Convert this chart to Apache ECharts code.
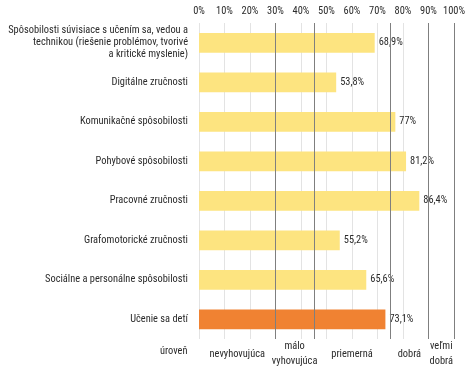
<!DOCTYPE html>
<html><head><meta charset="utf-8">
<script src="https://cdn.jsdelivr.net/npm/echarts@6/dist/echarts.min.js"></script>
<style>html,body{margin:0;padding:0;background:#fff}#c{width:474px;height:371px}</style>
</head><body><div id="c"></div>
<script>
var categories = [
  "Spôsobilosti súvisiace s učením sa, vedou a\ntechnikou (riešenie problémov, tvorivé\na kritické myslenie)",
  "Digitálne zručnosti",
  "Komunikačné spôsobilosti",
  "Pohybové spôsobilosti",
  "Pracovné zručnosti",
  "Grafomotorické zručnosti",
  "Sociálne a personálne spôsobilosti",
  "Učenie sa detí"
];
var values = [68.9, 53.8, 77, 81.2, 86.4, 55.2, 65.6, 73.1];
var highlightIndex = 7;
var thresholds = [30, 45, 75, 90, 100];
var levelPositions = [15, 37.5, 60, 82.5, 95];
var levelLabels = ["nevyhovujúca", "málo\nvyhovujúca", "priemerná", "dobrá", "veľmi\ndobrá"];
var levelTitle = "úroveň";

var FONT = "'Roboto Condensed', sans-serif";
var FS = 10.4;
var TXT = '#2b2b2b';
var chart = echarts.init(document.getElementById('c'), null, {renderer: 'canvas'});
var labelMap = {};
levelPositions.forEach(function (p, i) { labelMap[p] = levelLabels[i]; });

chart.setOption({
  animation: false,
  textStyle: {fontFamily: FONT},
  grid: {left: 199, right: 20, top: 23, bottom: 32, containLabel: false, outerBoundsMode: 'none'},
  xAxis: [{
    type: 'value', position: 'top', min: 0, max: 100, interval: 10,
    axisLine: {show: false}, axisTick: {show: false},
    axisLabel: {formatter: '{value}%', color: TXT, fontSize: FS, fontFamily: FONT, margin: 7},
    splitLine: {show: true, lineStyle: {color: '#e3e3e3', width: 1}}
  }, {
    type: 'value', position: 'bottom', min: 0, max: 100,
    axisLine: {show: false}, axisTick: {show: false}, splitLine: {show: false},
    axisLabel: {
      customValues: levelPositions, showMinLabel: true, showMaxLabel: true,
      formatter: function (v) { return labelMap[v] || ''; },
      color: TXT, fontSize: FS, fontFamily: FONT, margin: 15, verticalAlign: 'middle', lineHeight: 15
    }
  }],
  yAxis: {
    type: 'category', data: categories, inverse: true,
    axisLine: {show: false}, axisTick: {show: false},
    axisLabel: {color: TXT, fontSize: FS, fontFamily: FONT, margin: 11, lineHeight: 12, align: 'right'}
  },
  graphic: [{
    type: 'text', left: 160, top: 346,
    style: {text: levelTitle, fill: TXT, font: FS + 'px ' + FONT}
  }],
  series: [{
    type: 'bar', xAxisIndex: 0, barCategoryGap: '50%',
    data: values.map(function (v, i) {
      return {value: v, itemStyle: {color: i === highlightIndex ? '#F08232' : '#FDE480'}};
    }),
    label: {
      show: true, position: 'right', distance: 4, color: TXT, fontSize: FS, fontFamily: FONT,
      formatter: function (p) { return String(p.value).replace('.', ',') + '%'; }
    },
    markLine: {
      silent: true, symbol: ['none', 'none'], label: {show: false},
      lineStyle: {color: '#7f7f7f', type: 'solid', width: 1},
      data: thresholds.map(function (t) { return {xAxis: t}; })
    }
  }]
});
</script></body></html>
